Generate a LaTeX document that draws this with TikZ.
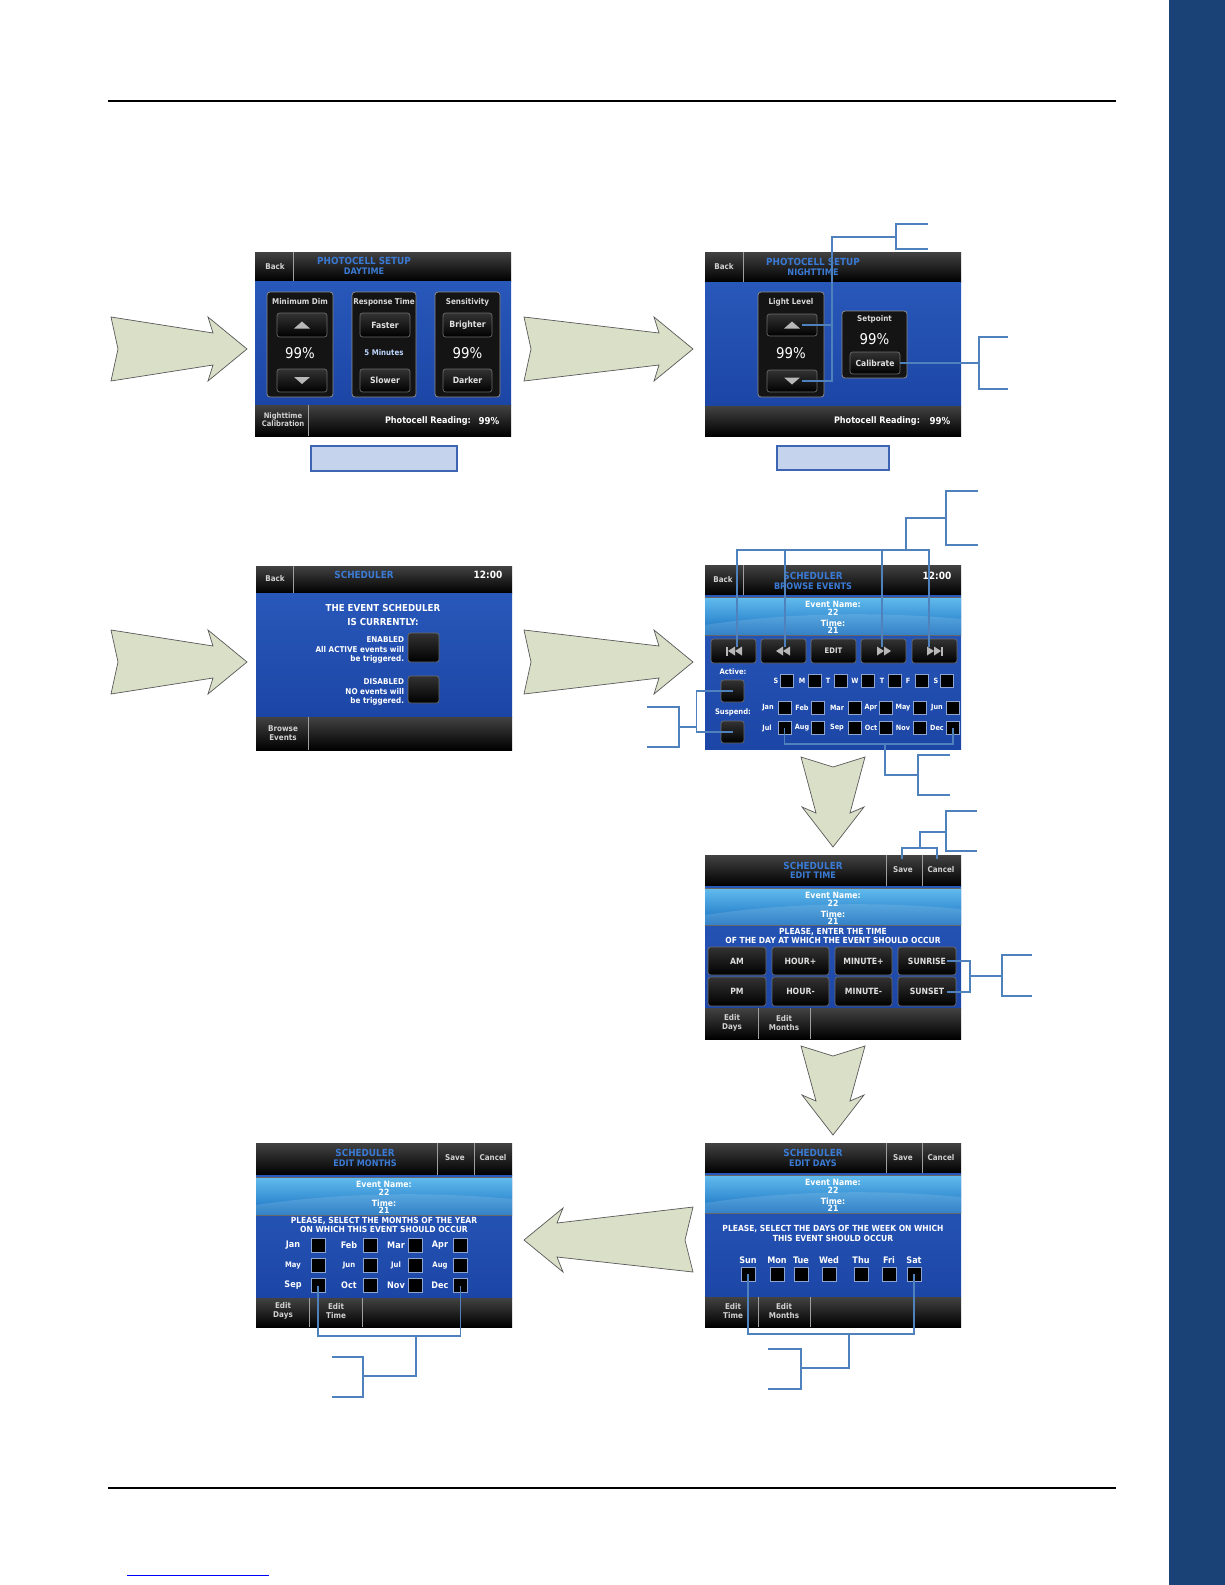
\documentclass[tikz,border=0pt]{standalone}
\usepackage{fontspec}
\newfontfamily\ui[FakeStretch=0.9]{DejaVu Sans}
\usetikzlibrary{calc}
\definecolor{bodytop}{RGB}{40,88,186}
\definecolor{bodybot}{RGB}{28,70,166}
\definecolor{ttlblue}{RGB}{58,122,212}
\definecolor{evtop}{RGB}{98,188,238}
\definecolor{evbot}{RGB}{24,112,192}
\definecolor{callout}{RGB}{79,129,189}
\definecolor{arrowfill}{RGB}{218,223,200}
\definecolor{capfill}{RGB}{198,211,236}
\definecolor{capdraw}{RGB}{62,100,180}
\definecolor{sidebar}{RGB}{27,66,118}
\definecolor{chkline}{RGB}{140,165,210}
\newcommand\uifs[1]{\ui\fontsize{#1}{#1}\selectfont}
\newcommand\uifsb[2]{\ui\fontsize{#1}{#2}\selectfont}
\tikzset{
  tx/.style={inner sep=0pt, outer sep=0pt},
  co/.style={draw=callout, line width=0.85pt},
  bigarrow/.style={fill=arrowfill, draw=black!65, line width=0.35pt},
  hdrsh/.style={top color=black!74, bottom color=black},
  bodysh/.style={top color=bodytop, bottom color=bodybot},
  sepl/.style={draw=gray!75, line width=0.45pt},
  btn/.style={tx, draw=black!58, line width=0.35pt, rounded corners=1.3pt, top color=black!80, bottom color=black, text=white!88!black, font=\uifs{4.3}\bfseries},
  pnl/.style={tx, draw=black!45, line width=0.4pt, rounded corners=1.5pt, fill=black!92},
  chk/.style={tx, draw=chkline, line width=0.3pt, fill=black, minimum size=6.3pt},
  chkb/.style={tx, draw=chkline, line width=0.3pt, fill=black, minimum size=7pt},
  capbox/.style={tx, draw=capdraw, line width=0.6pt, fill=capfill},
  hdrt/.style={tx, font=\uifs{4}\bfseries, text=white!82!black},
  ttl/.style={tx, font=\uifs{4.9}\bfseries, text=ttlblue},
  ttl2/.style={tx, font=\uifs{4.5}\bfseries, text=ttlblue},
  clock/.style={tx, font=\uifs{5}\bfseries, text=white},
  plbl/.style={tx, font=\uifs{4}\bfseries, text=white!85!black},
  big/.style={tx, font=\uifs{7.4}, text=white},
  mins/.style={tx, font=\uifs{3.9}\bfseries, text={rgb,255:red,190;green,215;blue,255}},
  ftr/.style={tx, font=\uifsb{4}{4.5}\bfseries, text=white!82!black, align=center},
  rd/.style={tx, font=\uifs{4.5}\bfseries, text=white},
  rdv/.style={tx, font=\uifs{4.8}\bfseries, text=white},
  pl/.style={tx, font=\uifs{4.2}\bfseries, text=white},
  bigl/.style={tx, font=\uifs{4.8}\bfseries, text=white},
  msg/.style={tx, font=\uifsb{4}{4.75}\bfseries, text=white, align=right},
  evt/.style={tx, font=\uifs{4.3}\bfseries, text=white},
  sm/.style={tx, font=\uifs{3.8}\bfseries, text=white},
  dl/.style={tx, font=\uifs{3.6}\bfseries, text=white},
  ml/.style={tx, font=\uifs{4.5}\bfseries, text=white},
  sym/.style={fill=white!72!black}
}
% button node: [opts]{name}{cx,cy}{w px}{h px}{text}
\newcommand\bt[6][]{\node[btn,#1, minimum width={(#4)*0.5pt}, minimum height={(#5)*0.5pt}] (#2) at (#3) {#6};}
\newcommand\pn[4]{\node[pnl, minimum width={(#3)*0.5pt}, minimum height={(#4)*0.5pt}] (#1) at (#2) {};}
\newcommand\uptri[2]{\fill[sym] ({#1-8},{#2+3.5}) -- ({#1+8},{#2+3.5}) -- (#1,{#2-3.5}) -- cycle;}
\newcommand\dntri[2]{\fill[sym] ({#1-8},{#2-3.5}) -- ({#1+8},{#2-3.5}) -- (#1,{#2+3.5}) -- cycle;}
\newcommand\evbar[3]{%
  \shade[top color=evtop, bottom color=evbot] (0,#2) rectangle (256,#3);
  \fill[white, opacity=0.12] (0,{#3-10}) .. controls (80,{#3-22}) and (170,{#3-24}) .. (256,{#3-16}) -- (256,#3) -- (0,#3) -- cycle;
  \draw[black!60, line width=0.4pt] (0,#2) -- (256,#2) (0,#3) -- (256,#3);
  \node[evt] (#1en) at (128,{#2+7}) {Event Name:};
  \node[evt] (#1n) at (128,{#2+15}) {22};
  \node[evt] (#1tm) at (128,{#2+26}) {Time:};
  \node[evt] (#1t) at (128,{#2+33}) {21};}
\newcommand\rarrow[3]{\filldraw[bigarrow] (#1,{#2-32}) -- ({#1+#3-34},{#2-16}) -- ({#1+#3-39},{#2-32}) -- ({#1+#3},#2) -- ({#1+#3-39},{#2+32}) -- ({#1+#3-34},{#2+16}) -- (#1,{#2+32}) -- ({#1+7},#2) -- cycle;}
\newcommand\darrow[3]{\filldraw[bigarrow] ({#1-32},#2) -- (#1,{#2+10}) -- ({#1+32},#2) -- ({#1+17},{#2+#3-34}) -- ({#1+31},{#2+#3-40}) -- (#1,{#2+#3}) -- ({#1-31},{#2+#3-40}) -- ({#1-17},{#2+#3-34}) -- cycle;}
\begin{document}
\begin{tikzpicture}[x=0.5pt,y=-0.5pt]
\useasboundingbox (0,0) rectangle (1225,1585);
\fill[white] (0,0) rectangle (1225,1585);
% page furniture
\fill[sidebar] (1169,0) rectangle (1225,1585);
\draw[black, line width=0.7pt] (108,101) -- (1116,101);
\draw[black, line width=0.7pt] (108,1488) -- (1116,1488);
\draw[blue, line width=0.5pt] (127,1575) -- (269,1575);

% big arrows
\rarrow{111}{349}{136}
\rarrow{524}{349}{169}
\rarrow{111}{662}{136}
\rarrow{524}{662}{169}
\darrow{833}{757}{90}
\darrow{833}{1046}{89}
\filldraw[bigarrow] (524,1240) -- (563,1208) -- (557,1223) -- (693,1207) -- (685,1240) -- (693,1272) -- (557,1257) -- (563,1272) -- cycle;

% caption boxes
\node[capbox, minimum width=73pt, minimum height=12.5pt] (cap1) at (384,458.5) {};
\node[capbox, minimum width=56pt, minimum height=12pt] (cap2) at (833,458) {};

% ===== Screen 1: photocell daytime =====
\begin{scope}[shift={(255,252)}]
 \fill[black] (0,0) rectangle (256,184);
 \shade[hdrsh] (0,0) rectangle (256,29);
 \shade[bodysh] (0,29) rectangle (256,153);
 \shade[hdrsh] (0,153) rectangle (256,184);
 \draw[sepl] (38,0) -- (38,29);
 \draw[sepl] (53,153) -- (53,184);
 \node[hdrt] (s1back) at (20,15) {Back};
 \node[ttl] (s1t1) at (109,9) {PHOTOCELL SETUP};
 \node[ttl2] (s1t2) at (109,19) {DAYTIME};
 \pn{s1p1}{45,92.5}{66}{105}
 \pn{s1p2}{129,92.5}{64}{105}
 \pn{s1p3}{212.5,92.5}{65}{105}
 \node[plbl] (s1l1) at (45,50) {Minimum Dim};
 \node[plbl] (s1l2) at (129,50) {Response Time};
 \node[plbl] (s1l3) at (212.5,50) {Sensitivity};
 \bt{s1b1}{47,73}{50}{24}{}
 \bt{s1b2}{47,128.5}{50}{23}{}
 \uptri{47}{73}
 \dntri{47}{128.5}
 \bt{s1b3}{130,73}{50}{24}{Faster}
 \bt{s1b4}{130,128.5}{50}{23}{Slower}
 \bt{s1b5}{212.5,73}{49}{24}{Brighter}
 \bt{s1b6}{212.5,128.5}{49}{23}{Darker}
 \node[big] (s1v1) at (45,101) {99\%};
 \node[mins] (s1v2) at (129,101) {5 Minutes};
 \node[big] (s1v3) at (212.5,101) {99\%};
 \node[ftr, font=\uifsb{3.8}{4}\bfseries] (s1nc) at (28,168) {Nighttime\\Calibration};
 \node[rd] (s1pr) at (173,169) {Photocell Reading:};
 \node[rdv] (s1pv) at (234,169) {99\%};
\end{scope}

% ===== Screen 2: photocell nighttime =====
\begin{scope}[shift={(705,252)}]
 \fill[black] (0,0) rectangle (256,184);
 \shade[hdrsh] (0,0) rectangle (256,30);
 \shade[bodysh] (0,30) rectangle (256,154);
 \shade[hdrsh] (0,154) rectangle (256,184);
 \draw[sepl] (38,0) -- (38,30);
 \node[hdrt] (s2back) at (19,15) {Back};
 \node[ttl] (s2t1) at (108,10) {PHOTOCELL SETUP};
 \node[ttl2] (s2t2) at (108,20) {NIGHTTIME};
 \pn{s2p1}{86,92.5}{66}{105}
 \node[plbl] (s2l1) at (86,50) {Light Level};
 \bt{s2b1}{87,73}{50}{22}{}
 \uptri{87}{73}
 \node[big] (s2v1) at (86,101) {99\%};
 \bt{s2b2}{87,129}{50}{22}{}
 \dntri{87}{129}
 \pn{s2p2}{169.5,92.5}{65}{67}
 \node[plbl] (s2l2) at (169.5,67) {Setpoint};
 \node[big] (s2v2) at (169.5,87) {99\%};
 \bt[font=\uifs{4.2}\bfseries]{s2cal}{170,111}{50}{22}{Calibrate}
 \coordinate (s2upt) at (97,73);
 \coordinate (s2dnt) at (97,129);
 \node[rd] (s2pr) at (172,169) {Photocell Reading:};
 \node[rdv] (s2pv) at (235,169) {99\%};
\end{scope}

% ===== Screen 3: scheduler =====
\begin{scope}[shift={(256,566)}]
 \fill[black] (0,0) rectangle (256,184);
 \shade[hdrsh] (0,0) rectangle (256,27);
 \shade[bodysh] (0,27) rectangle (256,151);
 \shade[hdrsh] (0,151) rectangle (256,184);
 \draw[sepl] (37,0) -- (37,27);
 \draw[sepl] (52,151) -- (52,184);
 \node[hdrt] (s3back) at (19,13) {Back};
 \node[ttl] (s3t1) at (108,9) {SCHEDULER};
 \node[clock] (s3clk) at (232,9) {12:00};
 \node[bigl] (s3h1) at (127,42) {THE EVENT SCHEDULER};
 \node[bigl] (s3h2) at (127,56) {IS CURRENTLY:};
 \node[msg, anchor=east] (s3en) at (148,84) {ENABLED\\All ACTIVE events will\\be triggered.};
 \bt{s3b1}{167.5,81.5}{31}{29}{}
 \node[msg, anchor=east] (s3dis) at (148,126) {DISABLED\\NO events will\\be triggered.};
 \bt{s3b2}{167.5,123.5}{31}{27}{}
 \node[ftr] (s3be) at (27,167) {Browse\\Events};
\end{scope}

% ===== Screen 4: browse events =====
\begin{scope}[shift={(705,565)}]
 \fill[black] (0,0) rectangle (256,184);
 \shade[hdrsh] (0,0) rectangle (256,30);
 \shade[bodysh] (0,30) rectangle (256,184);
 \evbar{s4}{32}{70}
 \draw[sepl] (38,0) -- (38,30);
 \node[hdrt] (s4back) at (18,15) {Back};
 \node[ttl] (s4t1) at (108,11) {SCHEDULER};
 \node[ttl2] (s4t2) at (108,21) {BROWSE EVENTS};
 \node[clock] (s4clk) at (232,11) {12:00};
 \bt{s4b1}{28.5,86}{45}{24}{}
 \bt{s4b2}{78.5,86}{45}{24}{}
 \bt[font=\uifs{3.8}\bfseries]{s4b3}{128.5,86}{45}{24}{EDIT}
 \bt{s4b4}{178.5,86}{45}{24}{}
 \bt{s4b5}{229.5,86}{45}{24}{}
 % symbols
 \fill[sym] (21,81.5) rectangle (23,90.5);
 \fill[sym] (23,86) -- (30,81.5) -- (30,90.5) -- cycle;
 \fill[sym] (30,86) -- (37,81.5) -- (37,90.5) -- cycle;
 \fill[sym] (71,86) -- (78,81.5) -- (78,90.5) -- cycle;
 \fill[sym] (78,86) -- (85,81.5) -- (85,90.5) -- cycle;
 \fill[sym] (172,81.5) -- (172,90.5) -- (179,86) -- cycle;
 \fill[sym] (179,81.5) -- (179,90.5) -- (186,86) -- cycle;
 \fill[sym] (222,81.5) -- (222,90.5) -- (229,86) -- cycle;
 \fill[sym] (229,81.5) -- (229,90.5) -- (236,86) -- cycle;
 \fill[sym] (236,81.5) rectangle (238,90.5);
 \coordinate (s4c1) at (32,82);
 \coordinate (s4c2) at (80,82);
 \coordinate (s4c3) at (177,82);
 \coordinate (s4c4) at (224,82);
 \node[sm] (s4al) at (28,107) {Active:};
 \bt{s4act}{27.5,126}{23}{22}{}
 \node[sm] (s4sl) at (28,147) {Suspend:};
 \bt{s4sus}{27.5,167}{23}{22}{}
 \foreach \l/\lx/\bx [count=\i] in {S/71/82, M/97/109.5, T/123/136, W/150/163, T/177/189.5, F/203/216.5, S/231/242}
   {\node[dl] (s4d\i) at (\lx,116) {\l}; \node[chk] (s4db\i) at (\bx,116) {};}
 \foreach \l/\lx/\bx [count=\i] in {Jan/63/79.5, Feb/97/113, Mar/132/149.5, Apr/166/181, May/198/215, Jun/232/248}
   {\node[dl] (s4m\i) at (\lx,142.5) {\l}; \node[chk] (s4mb\i) at (\bx,142.5) {};}
 \foreach \l/\lx/\bx [count=\i] in {Jul/62/79.5, Aug/97/113, Sep/132/149.5, Oct/166/181, Nov/198/215, Dec/232/248}
   {\node[dl] (s4n\i) at (\lx,163) {\l}; \node[chk] (s4nb\i) at (\bx,163) {};}
\end{scope}

% ===== Screen 5: edit time =====
\begin{scope}[shift={(705,855)}]
 \fill[black] (0,0) rectangle (256,184);
 \shade[hdrsh] (0,0) rectangle (256,31);
 \shade[bodysh] (0,31) rectangle (256,153);
 \shade[hdrsh] (0,153) rectangle (256,184);
 \evbar{s5}{33}{70}
 \draw[sepl] (181,0) -- (181,31) (217,0) -- (217,31);
 \draw[sepl] (53,153) -- (53,184) (105,153) -- (105,184);
 \node[ttl] (s5t1) at (108,11) {SCHEDULER};
 \node[ttl2] (s5t2) at (108,20) {EDIT TIME};
 \node[hdrt] (s5save) at (198,15) {Save};
 \node[hdrt] (s5cancel) at (236,15) {Cancel};
 \node[pl] (s5p1) at (128,77) {PLEASE, ENTER THE TIME};
 \node[pl] (s5p2) at (128,85) {OF THE DAY AT WHICH THE EVENT SHOULD OCCUR};
 \bt{s5am}{32,106}{58}{28}{AM}
 \bt{s5hp}{95.5,106}{57}{28}{HOUR+}
 \bt{s5mp}{158.5,106}{57}{28}{MINUTE+}
 \bt{s5sr}{222,106}{58}{28}{SUNRISE}
 \bt{s5pm}{32,136.5}{58}{29}{PM}
 \bt{s5hm}{95.5,136.5}{57}{29}{HOUR-}
 \bt{s5mm}{158.5,136.5}{57}{29}{MINUTE-}
 \bt{s5ss}{222,136.5}{58}{29}{SUNSET}
 \coordinate (s5sv) at (197,4);
 \coordinate (s5cn) at (232,4);
 \coordinate (s5r) at (242,106);
 \coordinate (s5s) at (242,137);
 \node[ftr] (s5ed) at (27,168) {Edit\\Days};
 \node[ftr] (s5em) at (79,168) {Edit\\Months};
\end{scope}

% ===== Screen 6: edit days =====
\begin{scope}[shift={(705,1143)}]
 \fill[black] (0,0) rectangle (256,184);
 \shade[hdrsh] (0,0) rectangle (256,30);
 \shade[bodysh] (0,30) rectangle (256,154);
 \shade[hdrsh] (0,154) rectangle (256,184);
 \evbar{s6}{32}{70}
 \draw[sepl] (181,0) -- (181,30) (217,0) -- (217,30);
 \draw[sepl] (53,154) -- (53,184) (105,154) -- (105,184);
 \node[ttl] (s6t1) at (108,10) {SCHEDULER};
 \node[ttl2] (s6t2) at (108,20) {EDIT DAYS};
 \node[hdrt] (s6save) at (198,15) {Save};
 \node[hdrt] (s6cancel) at (236,15) {Cancel};
 \node[pl] (s6p1) at (128,86) {PLEASE, SELECT THE DAYS OF THE WEEK ON WHICH};
 \node[pl] (s6p2) at (128,95) {THIS EVENT SHOULD OCCUR};
 \foreach \l/\lx [count=\i] in {Sun/43, Mon/72, Tue/96, Wed/124, Thu/156, Fri/184, Sat/209}
   {\node[ml] (s6d\i) at (\lx,117) {\l}; \node[chkb] (s6b\i) at (\lx,131) {};}
 \node[ftr] (s6et) at (28,168) {Edit\\Time};
 \node[ftr] (s6em) at (79,168) {Edit\\Months};
\end{scope}

% ===== Screen 7: edit months =====
\begin{scope}[shift={(256,1143)}]
 \fill[black] (0,0) rectangle (256,184);
 \shade[hdrsh] (0,0) rectangle (256,32);
 \shade[bodysh] (0,32) rectangle (256,155);
 \shade[hdrsh] (0,155) rectangle (256,184);
 \evbar{s7}{34}{72}
 \draw[sepl] (181,0) -- (181,32) (218,0) -- (218,32);
 \draw[sepl] (53,155) -- (53,184) (106,155) -- (106,184);
 \node[ttl] (s7t1) at (109,10) {SCHEDULER};
 \node[ttl2] (s7t2) at (109,20) {EDIT MONTHS};
 \node[hdrt] (s7save) at (199,15) {Save};
 \node[hdrt] (s7cancel) at (237,15) {Cancel};
 \node[pl] (s7p1) at (128,78) {PLEASE, SELECT THE MONTHS OF THE YEAR};
 \node[pl] (s7p2) at (128,86) {ON WHICH THIS EVENT SHOULD OCCUR};
 \foreach \l/\lx/\bx [count=\i] in {Jan/37/62, Feb/93/114, Mar/140/159, Apr/184/204.5}
   {\node[ml] (s7a\i) at (\lx,102) {\l}; \node[chkb] (s7ab\i) at (\bx,102) {};}
 \foreach \l/\lx/\bx [count=\i] in {May/37/62, Jun/93/114, Jul/140/159, Aug/184/204.5}
   {\node[ml, font=\uifs{3.8}\bfseries] (s7b\i) at (\lx,122.5) {\l}; \node[chkb] (s7bb\i) at (\bx,122.5) {};}
 \foreach \l/\lx/\bx [count=\i] in {Sep/37/62, Oct/93/114, Nov/140/159, Dec/184/204.5}
   {\node[ml] (s7c\i) at (\lx,142.5) {\l}; \node[chkb] (s7cb\i) at (\bx,142.5) {};}
 \node[ftr] (s7ed) at (27,168) {Edit\\Days};
 \node[ftr] (s7et) at (80,168) {Edit\\Time};
\end{scope}

% ===== callouts =====
% screen 2 arrows
\coordinate (b1a) at (928,224); \coordinate (b1b) at (928,249); \coordinate (b1m) at (896,237);
\draw[co] (s2upt) -- ++(30,0);
\draw[co] (s2dnt) -- ++(30,0) |- (b1m);
\draw[co] (b1a) -- ++(-32,0) |- (b1b);
% calibrate
\coordinate (b2a) at (1008,337); \coordinate (b2b) at (1008,389); \coordinate (b2m) at (979,363);
\draw[co] (s2cal.east) -- (b2m);
\draw[co] (b2a) -- ++(-29,0) |- (b2b);
% screen 4 navigation
\coordinate (b3a) at (978,491); \coordinate (b3b) at (978,545); \coordinate (b3m) at (946,518);
\coordinate (j3) at (906,550);
\draw[co] (s4c1) |- (j3) -| (s4c4);
\draw[co] (s4c2) -- (s4c2 |- j3);
\draw[co] (s4c3) -- (s4c3 |- j3);
\draw[co] (j3) |- (b3m);
\draw[co] (b3a) -- ++(-32,0) |- (b3b);
% screen 4 active/suspend
\coordinate (b4a) at (647,707); \coordinate (b4b) at (647,747); \coordinate (b4m) at (679,727);
\draw[co] (s4act.center) -- ++(-36,0) |- (s4sus.center);
\draw[co] (b4m) -- ++(17.5,0);
\draw[co] (b4a) -- ++(32,0) |- (b4b);
% screen 4 months
\coordinate (j5) at (885,744); \coordinate (b5m) at (918,775);
\coordinate (b5a) at (950,755); \coordinate (b5b) at (950,795);
\draw[co] (s4nb1.center) -- ++(0,16) -| (s4nb6.center);
\draw[co] (j5) |- (b5m);
\draw[co] (b5a) -- ++(-32,0) |- (b5b);
% screen 5 save/cancel
\coordinate (j6) at (920,848); \coordinate (b6m) at (946,832);
\coordinate (b6a) at (977,811); \coordinate (b6b) at (977,851);
\draw[co] (s5sv) -- ++(0,-11) -| (s5cn);
\draw[co] (j6) |- (b6m);
\draw[co] (b6a) -- ++(-31,0) |- (b6b);
% screen 5 sunrise/sunset
\coordinate (j7) at (970,976); \coordinate (b7m) at (1002,976);
\coordinate (b7a) at (1032,955); \coordinate (b7b) at (1032,996);
\draw[co] (s5r) -- ++(23,0) |- (s5s);
\draw[co] (j7) -- (b7m);
\draw[co] (b7a) -- ++(-30,0) |- (b7b);
% screen 6 days
\coordinate (j8) at (849,1334); \coordinate (b8m) at (801,1368);
\coordinate (b8a) at (768,1349); \coordinate (b8b) at (768,1389);
\draw[co] (s6b1.center) -- ++(0,60) -| (s6b7.center);
\draw[co] (j8) |- (b8m);
\draw[co] (b8a) -- ++(33,0) |- (b8b);
% screen 7 months
\coordinate (j9) at (416,1336); \coordinate (b9m) at (363,1376);
\coordinate (b9a) at (332,1357); \coordinate (b9b) at (332,1397);
\draw[co] (s7cb1.center) -- ++(0,50.5) -| (s7cb4.center);
\draw[co] (j9) |- (b9m);
\draw[co] (b9a) -- ++(31,0) |- (b9b);
\end{tikzpicture}
\end{document}
